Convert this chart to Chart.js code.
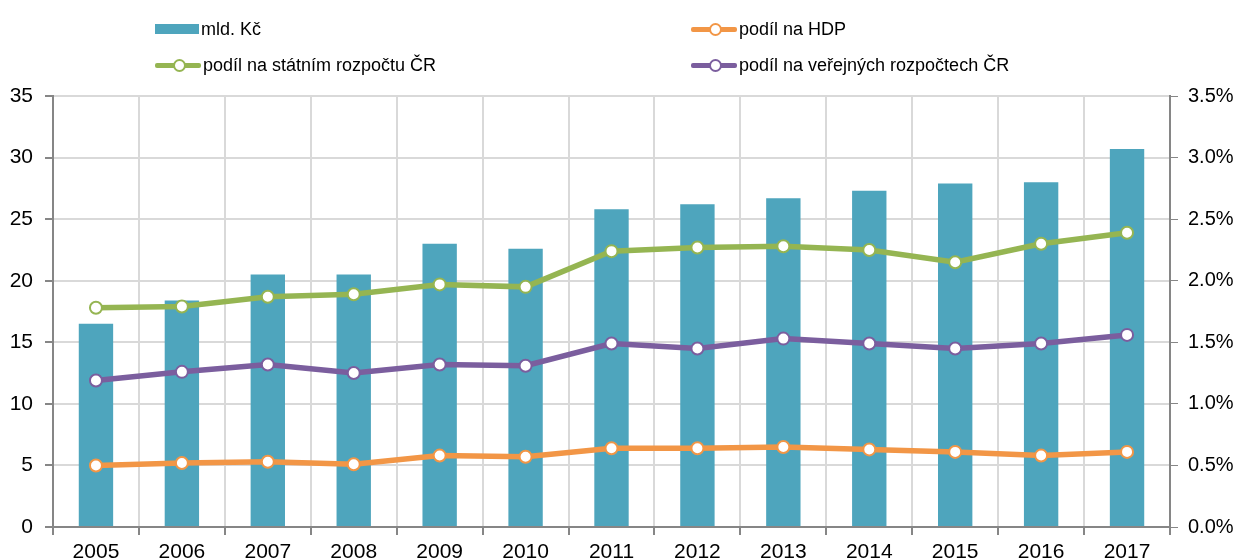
<!DOCTYPE html>
<html>
<head>
<meta charset="utf-8">
<script src="https://cdn.jsdelivr.net/npm/chart.js@4.4.0/dist/chart.umd.min.js"></script>
<style>
    body { margin: 0; background: #fff; font-family: "Liberation Sans", Arial, sans-serif; }
    #wrap { position: relative; width: 1240px; height: 560px; }
    #legend { position: absolute; left: 0; top: 0; width: 1240px; height: 90px; font-size: 18px; color: #000; }
    .item { position: absolute; display: flex; align-items: center; height: 24px; }
    .box { width: 44px; height: 10px; margin-right: 2px; }
    .line { position: relative; width: 46px; height: 5px; margin-right: 2px; border-radius: 2px; }
    .line span { position: absolute; left: 18px; top: -4px; width: 9px; height: 9px; border-radius: 50%; background: #fff; border: 2px solid; box-sizing: content-box; }
</style>
</head>
<body>
<div id="wrap">
    <canvas id="chart" width="1240" height="560"></canvas>
    <div id="legend"></div>
</div>
<script>
// data
const years = ['2005', '2006', '2007', '2008', '2009', '2010', '2011', '2012', '2013', '2014', '2015', '2016', '2017'];
const mldKc = [16.5, 18.4, 20.5, 20.5, 23.0, 22.6, 25.8, 26.2, 26.7, 27.3, 27.9, 28.0, 30.7];
const podilHdp = [0.50, 0.52, 0.53, 0.51, 0.58, 0.57, 0.64, 0.64, 0.65, 0.63, 0.61, 0.58, 0.61];
const podilStatni = [1.78, 1.79, 1.87, 1.89, 1.97, 1.95, 2.24, 2.27, 2.28, 2.25, 2.15, 2.30, 2.39];
const podilVerejne = [1.19, 1.26, 1.32, 1.25, 1.32, 1.31, 1.49, 1.45, 1.53, 1.49, 1.45, 1.49, 1.56];

const barColor = '#4ea5bd';
const orange = '#f29646';
const green = '#95b552';
const purple = '#7b5e9e';

function lineSet(label, data, color) {
    return {
        type: 'line',
        label: label,
        data: data,
        yAxisID: 'y1',
        borderColor: color,
        borderWidth: 5.5,
        pointRadius: 6,
        pointBorderWidth: 2,
        pointBackgroundColor: '#fff',
        pointBorderColor: color,
        tension: 0,
        order: 0
    };
}

const ctx = document.getElementById('chart').getContext('2d');
const chart = new Chart(ctx, {
    type: 'bar',
    data: {
        labels: years,
        datasets: [
            {
                label: 'mld. Kč',
                data: mldKc,
                backgroundColor: barColor,
                yAxisID: 'y',
                barPercentage: 0.4,
                categoryPercentage: 1,
                order: 1
            },
            lineSet('podíl na HDP', podilHdp, orange),
            lineSet('podíl na státním rozpočtu ČR', podilStatni, green),
            lineSet('podíl na veřejných rozpočtech ČR', podilVerejne, purple)
        ]
    },
    options: {
        responsive: false,
        animation: false,
        layout: { padding: { top: 96, left: 0, right: 0, bottom: 0 } },
        plugins: {
            legend: { display: false },
            tooltip: { enabled: false }
        },
        scales: {
            x: {
                grid: { color: '#d9d9d9', lineWidth: 2, tickLength: 8, tickColor: '#868686', offset: true },
                border: { color: '#868686', width: 2 },
                ticks: { color: '#000', font: { family: 'Liberation Sans', size: 21 }, padding: 5, maxRotation: 0 },
                afterFit: (s) => { s.height = 33; }
            },
            y: {
                position: 'left',
                min: 0,
                max: 35,
                grid: { color: '#d9d9d9', lineWidth: 2, tickLength: 8, tickColor: '#868686' },
                border: { color: '#868686', width: 2 },
                ticks: { stepSize: 5, color: '#000', font: { family: 'Liberation Sans', size: 21 }, padding: 12 },
                afterFit: (s) => { s.width = 53; }
            },
            y1: {
                position: 'right',
                min: 0,
                max: 3.5,
                grid: { drawOnChartArea: false, tickLength: 8, tickColor: '#868686' },
                border: { color: '#868686', width: 2 },
                ticks: {
                    stepSize: 0.5,
                    color: '#000',
                    font: { family: 'Liberation Sans', size: 20 },
                    padding: 10,
                    callback: (v) => v.toFixed(1) + '%'
                },
                afterFit: (s) => { s.width = 70; }
            }
        }
    }
});

// legend in two columns, like the original
const legendItems = [
    { text: 'mld. Kč', color: barColor, bar: true, x: 155, y: 17 },
    { text: 'podíl na HDP', color: orange, x: 691, y: 17 },
    { text: 'podíl na státním rozpočtu ČR', color: green, x: 155, y: 53 },
    { text: 'podíl na veřejných rozpočtech ČR', color: purple, x: 691, y: 53 }
];
const legendDiv = document.getElementById('legend');
legendItems.forEach((it) => {
    const d = document.createElement('div');
    d.className = 'item';
    d.style.left = it.x + 'px';
    d.style.top = it.y + 'px';
    const sw = document.createElement('div');
    if (it.bar) {
        sw.className = 'box';
        sw.style.background = it.color;
    } else {
        sw.className = 'line';
        sw.style.background = it.color;
        const dot = document.createElement('span');
        dot.style.borderColor = it.color;
        sw.appendChild(dot);
    }
    const t = document.createElement('span');
    t.textContent = it.text;
    d.appendChild(sw);
    d.appendChild(t);
    legendDiv.appendChild(d);
});
</script>
</body>
</html>
